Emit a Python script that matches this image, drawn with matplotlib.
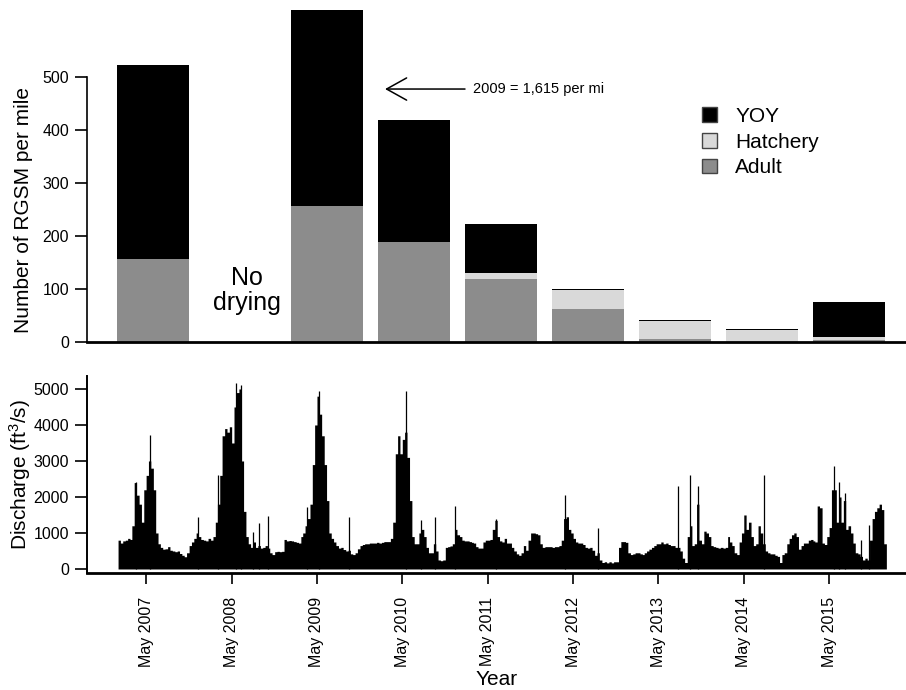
import numpy as np
import matplotlib
matplotlib.use("Agg")
import matplotlib.pyplot as plt
from matplotlib.patches import Patch

plt.rcParams['font.family'] = ['Liberation Sans', 'DejaVu Sans']
plt.rcParams['mathtext.fontset'] = 'custom'
plt.rcParams['mathtext.rm'] = 'Liberation Sans'
plt.rcParams['mathtext.it'] = 'Liberation Sans:italic'

# RGSM density per mile, by life stage
years = [2007, 2008, 2009, 2010, 2011, 2012, 2013, 2014, 2015]
adult = [157, 0, 257, 189, 119, 62, 5, 1, 3]
hatchery = [0, 0, 0, 0, 11, 36, 35, 22, 7]
yoy = [366, 0, 1358, 229, 92, 2.5, 1.5, 1.5, 65]

# discharge (ft3/s), values for the 1st, 11th and 21st of each month
q2007 = [800, 720, 780, 800, 850, 820, 1200, 2400, 2050, 1800, 1300, 2200,
         2600, 3000, 2800, 2200, 1000, 700, 600, 550, 560, 620, 520, 500,
         480, 500, 430, 380, 340, 450, 650, 750, 850, 1000, 900, 820]
q2008 = [800, 780, 850, 800, 900, 1300, 1800, 2600, 3700, 3900, 3800, 3950,
         3500, 4500, 4900, 5000, 3000, 1600, 900, 700, 600, 750, 600, 650,
         580, 600, 650, 580, 450, 400, 480, 490, 480, 490, 820, 780]
q2009 = [790, 780, 760, 740, 720, 900, 1000, 1200, 1400, 1800, 2900, 4000,
         4800, 4300, 3700, 2900, 1900, 1000, 850, 750, 650, 580, 600, 540,
         500, 520, 420, 400, 450, 560, 650, 680, 700, 700, 720, 720]
q2010 = [720, 740, 720, 740, 760, 760, 760, 850, 1300, 3200, 3700, 3200,
         3600, 3800, 3100, 1900, 900, 700, 700, 1000, 1100, 900, 600, 450,
         450, 700, 500, 250, 230, 250, 600, 620, 640, 700, 1100, 950]
q2011 = [900, 800, 780, 780, 760, 740, 720, 620, 580, 580, 750, 800,
         800, 820, 1100, 1350, 900, 780, 750, 850, 720, 720, 600, 500,
         420, 380, 450, 650, 520, 800, 1000, 1000, 980, 950, 700, 600]
q2012 = [620, 620, 620, 600, 620, 620, 650, 800, 1400, 1450, 1100, 1000,
         850, 750, 720, 720, 680, 600, 580, 600, 520, 380, 450, 250,
         180, 200, 170, 200, 170, 200, 200, 600, 760, 760, 740, 450]
q2013 = [400, 420, 450, 450, 420, 400, 450, 500, 550, 600, 650, 700,
         700, 750, 700, 720, 680, 650, 650, 600, 600, 500, 300, 180,
         900, 1200, 650, 700, 1800, 800, 700, 1050, 1000, 900, 650, 620]
q2014 = [600, 580, 600, 580, 600, 900, 750, 650, 450, 400, 750, 1000,
         1500, 1100, 1300, 900, 650, 700, 1200, 1000, 700, 500, 450, 420,
         420, 380, 350, 180, 400, 450, 700, 850, 950, 1000, 900, 550]
q2015 = [650, 720, 720, 800, 820, 780, 750, 1750, 1700, 720, 680, 900,
         1150, 2200, 2200, 1300, 2000, 1300, 1900, 1100, 1200, 1000, 720, 450,
         420, 350, 250, 300, 250, 800, 1400, 1600, 1700, 1800, 1650, 700]

# single-day peaks
spike_dates = ['2007-03-18', '2007-05-17', '2007-12-09', '2008-03-04', '2008-05-18',
               '2008-06-08', '2008-08-02', '2008-08-27', '2008-10-02', '2009-03-18',
               '2009-05-10', '2009-09-16', '2010-05-19', '2010-07-22', '2010-09-17',
               '2010-12-12', '2011-06-05', '2012-03-29', '2012-08-14', '2013-07-24',
               '2013-09-12', '2013-10-15', '2014-07-27', '2015-05-22', '2015-06-12',
               '2015-07-07', '2015-09-15', '2015-10-17']
spike_vals = [2425, 3720, 1450, 2600, 5170, 5100, 1040, 1290, 1480, 1730,
              4930, 1450, 4930, 1360, 1450, 1750, 1400, 2060, 1150, 2300,
              2610, 2300, 2610, 2870, 2420, 2100, 800, 1220]

flow = np.concatenate([q2007, q2008, q2009, q2010, q2011, q2012, q2013, q2014, q2015])
starts = [np.datetime64(f'{y}-{m:02d}-{d:02d}') for y in years
          for m in range(1, 13) for d in (1, 11, 21)]
edges = np.array(starts + [np.datetime64('2016-01-01')])

fig = plt.figure(figsize=(9.06, 6.9), dpi=100)
ax1 = fig.add_axes([0.096, 0.5043, 0.904, 0.4812])
ax2 = fig.add_axes([0.096, 0.1696, 0.904, 0.2855])

# --- top: stacked bars
x = np.arange(len(years))
w = 0.833
ax1.bar(x, adult, w, color='#8c8c8c', lw=0)
ax1.bar(x, hatchery, w, bottom=adult, color='#d9d9d9', lw=0)
ax1.bar(x, yoy, w, bottom=np.add(adult, hatchery), color='black', lw=0)
ax1.set_xlim(-0.759, 8.655)
ax1.set_ylim(0, 626)
ax1.set_xticks([])
ax1.set_yticks(range(0, 501, 100))
ax1.tick_params(axis='y', labelsize=11.5, length=9, width=1.2, pad=4)
ax1.spines['top'].set_visible(False)
ax1.spines['right'].set_visible(False)
ax1.spines['left'].set_bounds(0, 500)
ax1.spines['left'].set_linewidth(1.2)
ax1.spines['bottom'].set_linewidth(2)
ax1.set_ylabel('Number of RGSM per mile', fontsize=15)
ax1.yaxis.set_label_coords(-0.066, 0.398)

ax1.text(1.08, 98, 'No\ndrying', fontsize=18, ha='center', va='center', linespacing=1.05)
ax1.annotate('', xy=(2.667, 477), xytext=(3.586, 477),
             arrowprops=dict(arrowstyle='->, head_length=0.72, head_width=0.4',
                             mutation_scale=20, lw=1.1, color='black',
                             shrinkA=0, shrinkB=0))
ax1.text(3.678, 477, '2009 = 1,615 per mi', fontsize=10.5, ha='left', va='center')

handles = [Patch(facecolor='black', edgecolor='#444444', lw=1),
           Patch(facecolor='#d9d9d9', edgecolor='#444444', lw=1),
           Patch(facecolor='#8c8c8c', edgecolor='#444444', lw=1)]
ax1.legend(handles, ['YOY', 'Hatchery', 'Adult'], loc='upper left',
           bbox_to_anchor=(0.751, 0.708), frameon=False, fontsize=15,
           handlelength=0.72, handleheight=0.72, handletextpad=0.87,
           labelspacing=0.32, borderpad=0, borderaxespad=0)

# --- bottom: discharge
ax2.fill_between(edges, np.r_[flow, flow[-1]], step='post', color='black', lw=0)
ax2.vlines(np.array(spike_dates, dtype='datetime64[D]'), 0, spike_vals,
           color='black', lw=0.9)
ax2.set_xlim(np.datetime64('2006-08-21'), np.datetime64('2016-03-25'))
ax2.set_ylim(-111, 5361)
ax2.set_yticks(range(0, 5001, 1000))
ax2.set_xticks([np.datetime64(f'{y}-05-01') for y in years])
ax2.set_xticklabels([f'May {y}' for y in years], rotation=90)
ax2.tick_params(axis='y', labelsize=11.5, length=9, width=1.2, pad=4)
ax2.tick_params(axis='x', labelsize=11.5, length=8, width=1.2, pad=9)
ax2.spines['top'].set_visible(False)
ax2.spines['right'].set_visible(False)
ax2.spines['left'].set_linewidth(1.4)
ax2.spines['bottom'].set_linewidth(2)
ax2.set_ylabel('Discharge (ft$^3$/s)', fontsize=15)
ax2.yaxis.set_label_coords(-0.066, 0.5)
ax2.set_xlabel('Year', fontsize=15)
ax2.xaxis.set_label_coords(0.5, -0.49)

fig.savefig('out.png', dpi=100)
